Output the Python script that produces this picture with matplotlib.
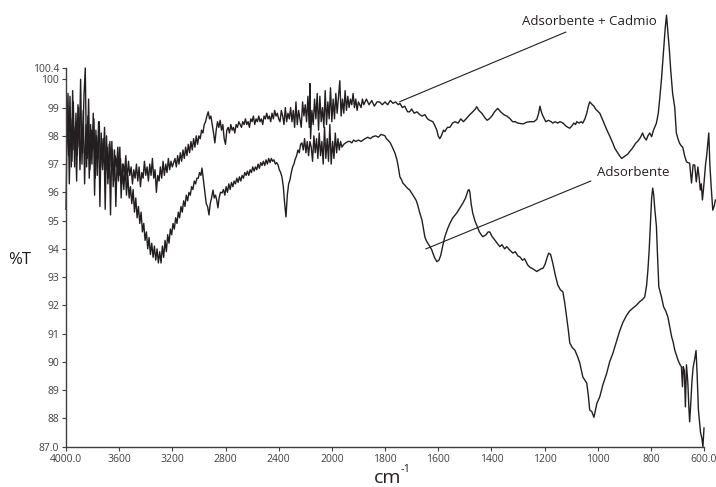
import numpy as np
import matplotlib
matplotlib.use('Agg')
import matplotlib.pyplot as plt

plt.rcParams['font.family'] = ['Open Sans', 'DejaVu Sans']

# spectrum: (wavenumber cm-1, %T)
cadmio_pts = np.array([
    (4000, 95.4), (3990, 98.9), (3980, 97.3), (3970, 99.4), (3960, 96.9), (3950, 99.6),
    (3940, 97.5), (3930, 98.3), (3920, 96.4), (3910, 99.1), (3900, 97.6), (3890, 100.0),
    (3880, 97.0), (3870, 98.9), (3860, 96.3), (3850, 98.4), (3840, 97.2), (3830, 99.3),
    (3820, 96.8), (3810, 98.2), (3800, 97.5), (3790, 98.6), (3780, 96.5), (3770, 98.0),
    (3760, 97.2), (3750, 98.5), (3740, 96.9), (3730, 97.9), (3720, 97.1), (3710, 98.3),
    (3700, 96.8), (3690, 97.6), (3680, 96.5), (3670, 97.8), (3660, 96.9), (3650, 97.5),
    (3640, 96.4), (3630, 97.3), (3620, 96.9), (3610, 97.6), (3600, 96.6), (3590, 97.2),
    (3580, 96.3), (3570, 97.0), (3560, 96.7), (3550, 97.3), (3540, 96.4), (3530, 97.1),
    (3520, 96.6), (3510, 96.9), (3500, 96.3), (3490, 96.8), (3480, 96.5), (3470, 97.0),
    (3460, 96.4), (3450, 96.9), (3440, 96.2), (3430, 96.7), (3420, 96.5), (3410, 97.1),
    (3400, 96.6), (3390, 96.9), (3380, 96.4), (3370, 97.0), (3360, 96.6), (3350, 97.2),
    (3340, 96.5), (3330, 96.8), (3320, 96.0), (3310, 96.6), (3300, 96.4), (3290, 96.9),
    (3280, 96.5), (3270, 97.1), (3260, 96.6), (3250, 97.0), (3240, 96.7), (3230, 97.2),
    (3220, 96.8), (3210, 97.1), (3200, 96.9), (3180, 97.2), (3170, 96.9), (3160, 97.3),
    (3150, 97.0), (3140, 97.4), (3130, 97.1), (3120, 97.5), (3110, 97.2), (3100, 97.6),
    (3090, 97.3), (3080, 97.7), (3070, 97.4), (3060, 97.8), (3050, 97.5), (3040, 97.9),
    (3030, 97.6), (3020, 98.0), (3010, 97.7), (3000, 98.0), (2990, 97.9), (2980, 98.2),
    (2970, 98.1), (2960, 98.4), (2950, 98.5), (2940, 98.7), (2930, 98.85), (2920, 98.6),
    (2910, 98.7), (2900, 98.4), (2890, 98.1), (2880, 97.75), (2870, 98.2), (2860, 98.5),
    (2850, 98.3), (2840, 98.55), (2830, 98.2), (2820, 98.4), (2810, 97.9), (2800, 97.7),
    (2790, 98.2), (2780, 98.3), (2770, 98.1), (2760, 98.4), (2750, 98.2), (2740, 98.3),
    (2730, 98.1), (2720, 98.4), (2710, 98.3), (2700, 98.5), (2680, 98.3), (2670, 98.5),
    (2660, 98.4), (2650, 98.6), (2640, 98.4), (2630, 98.5), (2620, 98.3), (2610, 98.6),
    (2600, 98.5), (2590, 98.7), (2580, 98.4), (2570, 98.6), (2560, 98.5), (2550, 98.7),
    (2540, 98.5), (2530, 98.6), (2520, 98.4), (2510, 98.7), (2500, 98.6), (2490, 98.8),
    (2480, 98.6), (2470, 98.7), (2460, 98.5), (2450, 98.8), (2440, 98.6), (2430, 98.9),
    (2420, 98.7), (2410, 98.8), (2400, 98.6), (2390, 98.5), (2380, 98.9), (2370, 98.7),
    (2360, 98.4), (2350, 99.0), (2340, 98.5), (2330, 98.8), (2320, 98.6), (2310, 99.0),
    (2300, 98.5), (2290, 98.9), (2280, 98.3), (2270, 99.2), (2260, 98.4), (2250, 98.9),
    (2240, 98.6), (2230, 98.3), (2220, 99.2), (2210, 98.7), (2200, 99.1), (2190, 98.5),
    (2180, 99.4), (2170, 98.3), (2165, 99.85), (2160, 97.9), (2150, 98.9), (2140, 98.4),
    (2130, 99.3), (2120, 98.6), (2110, 99.5), (2100, 98.2), (2090, 99.4), (2080, 98.5),
    (2070, 99.0), (2060, 98.3), (2050, 99.6), (2040, 98.4), (2030, 99.2), (2020, 98.6),
    (2010, 99.7), (2000, 98.5), (1995, 99.3), (1990, 98.6), (1985, 99.5), (1980, 98.8),
    (1975, 99.4), (1970, 99.95), (1965, 98.7), (1960, 99.3), (1955, 98.8), (1950, 99.6),
    (1945, 98.9), (1940, 99.4), (1935, 99.0), (1930, 99.3), (1925, 99.1), (1920, 99.5),
    (1915, 99.0), (1910, 99.3), (1905, 98.9), (1900, 99.2), (1890, 99.0), (1885, 99.3),
    (1880, 99.1), (1870, 99.3), (1860, 99.1), (1850, 99.25), (1840, 99.05), (1830, 99.2),
    (1820, 99.2), (1810, 99.1), (1800, 99.2), (1790, 99.1), (1780, 99.25), (1770, 99.15),
    (1760, 99.2), (1750, 99.1), (1744, 99.15), (1735, 99.0), (1726, 99.05), (1715, 98.85),
    (1707, 98.85), (1700, 98.95), (1690, 98.8), (1680, 98.85), (1669, 98.75), (1660, 98.7),
    (1650, 98.75), (1640, 98.6), (1632, 98.55), (1620, 98.5), (1612, 98.35), (1605, 98.2),
    (1600, 98.0), (1594, 97.9), (1588, 98.0), (1580, 98.2), (1575, 98.15), (1565, 98.3),
    (1556, 98.3), (1546, 98.45), (1537, 98.5), (1525, 98.45), (1515, 98.6), (1505, 98.5),
    (1495, 98.6), (1481, 98.75), (1470, 98.85), (1460, 98.95), (1455, 99.03), (1447, 98.9),
    (1436, 98.8), (1425, 98.65), (1416, 98.55), (1408, 98.6), (1398, 98.7), (1388, 98.85),
    (1376, 98.97), (1365, 98.85), (1353, 98.75), (1342, 98.7), (1331, 98.62), (1320, 98.5),
    (1310, 98.5), (1300, 98.45), (1293, 98.44), (1280, 98.42), (1268, 98.48), (1255, 98.5),
    (1240, 98.5), (1229, 98.58), (1222, 98.8), (1217, 99.05), (1212, 98.85), (1206, 98.7),
    (1195, 98.5), (1185, 98.55), (1175, 98.5), (1169, 98.45), (1160, 98.5), (1150, 98.45),
    (1142, 98.5), (1130, 98.45), (1120, 98.35), (1112, 98.3), (1105, 98.27), (1097, 98.35),
    (1090, 98.45), (1083, 98.4), (1079, 98.5), (1070, 98.45), (1062, 98.5), (1056, 98.45),
    (1048, 98.6), (1041, 98.8), (1035, 99.05), (1030, 99.2), (1025, 99.15), (1020, 99.1),
    (1014, 99.05), (1008, 98.95), (1003, 98.9), (992, 98.8), (983, 98.6), (974, 98.4),
    (965, 98.2), (955, 98.0), (943, 97.74), (935, 97.55), (925, 97.4), (918, 97.3),
    (910, 97.2), (902, 97.25), (895, 97.3), (887, 97.35), (880, 97.44), (870, 97.55),
    (857, 97.74), (850, 97.8), (842, 97.9), (836, 98.0), (831, 98.1), (825, 97.95),
    (817, 97.85), (811, 98.0), (804, 98.1), (797, 97.97), (790, 98.2), (779, 98.45),
    (772, 98.8), (767, 99.27), (760, 100.0), (752, 101.0), (746, 101.8), (741, 102.27),
    (736, 101.7), (730, 101.0), (725, 100.3), (718, 99.5), (710, 99.0), (704, 98.1),
    (698, 97.9), (692, 97.74), (686, 97.65), (680, 97.6), (673, 97.3), (666, 97.08),
    (660, 97.05), (654, 97.03), (647, 96.33), (641, 96.97), (635, 96.97), (629, 96.37),
    (623, 96.9), (618, 96.5), (614, 96.08), (610, 96.3), (606, 95.73), (602, 96.1),
    (598, 96.55), (594, 97.0), (590, 97.3), (586, 97.7), (582, 98.1), (578, 97.0),
    (573, 96.2), (567, 95.37), (562, 95.5), (557, 95.73),
])

adsorbente_pts = np.array([
    (3995, 97.8), (3985, 99.5), (3975, 96.3), (3965, 98.6), (3955, 97.1), (3945, 99.2),
    (3935, 96.9), (3925, 98.8), (3915, 97.3), (3905, 99.0), (3895, 96.8), (3885, 98.5),
    (3875, 97.4), (3865, 99.4), (3855, 100.4), (3845, 96.9), (3835, 98.7), (3825, 96.5),
    (3815, 98.4), (3805, 97.0), (3795, 98.8), (3785, 95.9), (3775, 98.2), (3765, 96.6),
    (3755, 98.5), (3745, 95.5), (3735, 98.1), (3725, 96.8), (3715, 97.9), (3705, 95.4),
    (3695, 98.0), (3685, 96.3), (3675, 97.7), (3665, 95.2), (3655, 97.8), (3645, 96.2),
    (3635, 97.5), (3625, 95.5), (3615, 97.2), (3605, 96.4), (3595, 97.6), (3585, 95.8),
    (3575, 97.0), (3565, 96.1), (3555, 96.9), (3545, 95.9), (3535, 96.6), (3525, 95.8),
    (3515, 96.2), (3505, 95.6), (3495, 96.1), (3485, 95.3), (3475, 95.8), (3465, 95.1),
    (3455, 95.5), (3445, 94.9), (3435, 95.3), (3425, 94.6), (3415, 94.9), (3405, 94.3),
    (3395, 94.6), (3385, 94.0), (3375, 94.4), (3365, 93.8), (3355, 94.2), (3345, 93.7),
    (3335, 94.1), (3325, 93.6), (3315, 94.0), (3305, 93.5), (3295, 93.9), (3285, 93.5),
    (3275, 94.1), (3265, 93.7), (3255, 94.3), (3245, 93.9), (3235, 94.5), (3225, 94.2),
    (3215, 94.7), (3205, 94.5), (3195, 94.9), (3185, 94.7), (3175, 95.1), (3165, 94.9),
    (3155, 95.3), (3145, 95.1), (3135, 95.5), (3125, 95.3), (3115, 95.7), (3105, 95.5),
    (3095, 95.9), (3085, 95.7), (3075, 96.0), (3065, 95.9), (3055, 96.2), (3045, 96.1),
    (3035, 96.4), (3025, 96.3), (3015, 96.5), (3005, 96.5), (2995, 96.7), (2985, 96.6),
    (2977, 96.86), (2965, 96.4), (2955, 96.0), (2945, 95.6), (2935, 95.5), (2924, 95.2),
    (2915, 95.6), (2905, 95.8), (2894, 96.08), (2885, 95.8), (2875, 95.9), (2865, 95.7),
    (2857, 95.45), (2848, 95.8), (2838, 96.0), (2826, 95.98), (2815, 96.1), (2805, 95.9),
    (2795, 96.2), (2785, 96.0), (2775, 96.3), (2765, 96.1), (2755, 96.35), (2745, 96.2),
    (2735, 96.4), (2725, 96.3), (2715, 96.5), (2705, 96.35), (2695, 96.55), (2685, 96.4),
    (2675, 96.6), (2665, 96.5), (2655, 96.7), (2645, 96.6), (2635, 96.75), (2625, 96.6),
    (2615, 96.8), (2605, 96.7), (2595, 96.9), (2585, 96.75), (2575, 96.9), (2565, 96.8),
    (2555, 97.0), (2545, 96.85), (2535, 97.05), (2525, 96.95), (2515, 97.1), (2505, 96.95),
    (2495, 97.15), (2485, 97.0), (2475, 97.2), (2465, 97.05), (2455, 97.2), (2445, 97.1),
    (2435, 97.15), (2425, 97.0), (2415, 97.05), (2405, 96.97), (2395, 96.8), (2385, 96.7),
    (2375, 96.54), (2365, 96.2), (2355, 95.6), (2345, 95.13), (2335, 95.9), (2325, 96.3),
    (2315, 96.44), (2305, 96.7), (2295, 96.9), (2285, 97.0), (2277, 97.15), (2265, 97.3),
    (2255, 97.5), (2245, 97.4), (2235, 97.7), (2225, 97.75), (2215, 97.5), (2205, 97.9),
    (2195, 97.4), (2185, 97.8), (2175, 97.3), (2165, 97.8), (2155, 97.6), (2145, 97.1),
    (2135, 98.0), (2125, 97.4), (2115, 97.9), (2105, 97.2), (2095, 98.1), (2085, 97.3),
    (2075, 97.8), (2065, 97.0), (2055, 98.3), (2045, 97.2), (2035, 97.9), (2025, 97.1),
    (2015, 98.4), (2005, 97.0), (1997, 97.8), (1992, 97.2), (1987, 98.1), (1982, 97.4),
    (1977, 97.9), (1972, 97.5), (1967, 97.8), (1962, 97.6), (1955, 97.7), (1948, 97.75),
    (1940, 97.8), (1932, 97.8), (1925, 97.75), (1918, 97.85), (1910, 97.8), (1900, 97.85),
    (1890, 97.8), (1883, 97.85), (1875, 97.9), (1865, 97.95), (1855, 97.9), (1846, 97.97),
    (1835, 98.0), (1825, 97.95), (1815, 98.05), (1808, 98.03), (1800, 98.0), (1795, 97.9),
    (1789, 97.85), (1780, 97.75), (1771, 97.57), (1763, 97.4), (1755, 97.15), (1750, 96.9),
    (1744, 96.55), (1738, 96.45), (1733, 96.33), (1725, 96.25), (1716, 96.15), (1707, 96.08),
    (1698, 95.95), (1688, 95.8), (1682, 95.7), (1677, 95.55), (1670, 95.3), (1661, 95.02),
    (1655, 94.7), (1650, 94.42), (1645, 94.3), (1639, 94.2), (1632, 94.1), (1624, 93.96),
    (1618, 93.8), (1613, 93.68), (1605, 93.55), (1597, 93.6), (1590, 93.78), (1583, 94.1),
    (1575, 94.43), (1565, 94.7), (1556, 94.9), (1545, 95.1), (1530, 95.27), (1518, 95.45),
    (1507, 95.62), (1497, 95.8), (1488, 96.06), (1484, 96.1), (1481, 96.02), (1476, 95.6),
    (1470, 95.27), (1462, 95.0), (1455, 94.84), (1445, 94.6), (1438, 94.5), (1432, 94.43),
    (1420, 94.5), (1412, 94.6), (1406, 94.6), (1398, 94.45), (1387, 94.31), (1378, 94.2),
    (1368, 94.08), (1360, 94.15), (1350, 94.0), (1342, 94.08), (1330, 93.95), (1319, 93.85),
    (1310, 93.9), (1300, 93.75), (1293, 93.72), (1283, 93.6), (1275, 93.65), (1263, 93.43),
    (1255, 93.35), (1245, 93.3), (1237, 93.25), (1229, 93.2), (1220, 93.25), (1212, 93.3),
    (1206, 93.31), (1198, 93.45), (1190, 93.7), (1184, 93.85), (1177, 93.8), (1169, 93.5),
    (1160, 93.1), (1150, 92.72), (1140, 92.55), (1131, 92.48), (1124, 92.1), (1117, 91.6),
    (1110, 91.1), (1105, 90.67), (1095, 90.5), (1086, 90.42), (1076, 90.2), (1067, 89.95),
    (1060, 89.65), (1056, 89.47), (1048, 89.35), (1041, 89.25), (1035, 88.8), (1030, 88.3),
    (1022, 88.24), (1014, 88.04), (1008, 88.3), (1003, 88.53), (992, 88.77), (980, 89.2),
    (966, 89.6), (955, 90.0), (943, 90.3), (930, 90.7), (917, 91.1), (905, 91.4),
    (891, 91.65), (880, 91.8), (868, 91.9), (855, 92.0), (842, 92.13), (832, 92.2),
    (823, 92.3), (816, 92.7), (811, 93.25), (806, 94.0), (801, 95.0), (797, 95.8),
    (793, 96.15), (789, 95.9), (785, 95.4), (779, 94.8), (775, 93.8), (770, 92.66),
    (760, 92.3), (752, 91.95), (744, 91.8), (736, 91.6), (728, 91.2), (722, 90.9),
    (716, 90.7), (710, 90.42), (704, 90.25), (698, 90.07), (690, 89.9), (685, 89.83),
    (681, 89.12), (678, 89.83), (674, 89.7), (670, 88.41), (666, 89.9), (661, 89.3),
    (657, 88.4), (654, 87.88), (650, 88.5), (645, 89.36), (641, 89.8), (635, 90.1),
    (630, 90.4), (626, 89.6), (621, 88.3), (617, 87.9), (613, 87.5), (608, 87.3),
    (604, 87.0), (600, 87.66),
])

x_ticks = [4000, 3600, 3200, 2800, 2400, 2000, 1800, 1600, 1400, 1200, 1000, 800, 600]
x_labels = ['4000.0', '3600', '3200', '2800', '2400', '2000', '1800', '1600',
            '1400', '1200', '1000', '800', '600.0']
y_ticks = [87, 88, 89, 90, 91, 92, 93, 94, 95, 96, 97, 98, 99, 100, 100.4]
y_labels = ['87.0', '88', '89', '90', '91', '92', '93', '94', '95', '96', '97',
            '98', '99', '100', '100.4']


# FTIR style axis: 400 cm-1 per division above 2000, 200 below
def fwd(w):
    w = np.asarray(w, dtype=float)
    return np.where(w >= 2000, 7 + (w - 2000) / 400, (w - 600) / 200)


def inv(t):
    t = np.asarray(t, dtype=float)
    return np.where(t >= 7, 2000 + 400 * (t - 7), 600 + 200 * t)


fig = plt.figure(figsize=(7.16, 4.87), dpi=100)
ax = fig.add_axes([66 / 716, 1 - 446.7 / 487, 638 / 716, 378.7 / 487])
ax.set_xscale('function', functions=(fwd, inv))
ax.set_xlim(4000, 600)
ax.set_ylim(87, 100.4)

line_col = '#231f20'
ax.plot(cadmio_pts[:, 0], cadmio_pts[:, 1], color=line_col, lw=1.0, clip_on=False)
ax.plot(adsorbente_pts[:, 0], adsorbente_pts[:, 1], color=line_col, lw=1.0, clip_on=False)

# callout lines and labels
ax.plot([1744, 1120], [99.21, 101.67], color=line_col, lw=0.8, clip_on=False)
ax.plot([1646, 1026], [94.0, 96.4], color=line_col, lw=0.8, clip_on=False)
ax.text(1286, 102.06, 'Adsorbente + Cadmio', fontsize=9.5, ha='left', va='center', color=line_col)
ax.text(1004, 96.7, 'Adsorbente', fontsize=9.5, ha='left', va='center', color=line_col)

ax.set_xticks(x_ticks)
ax.set_xticklabels(x_labels)
ax.set_yticks(y_ticks)
ax.set_yticklabels(y_labels)
ax.minorticks_off()

for s in ['top', 'right']:
    ax.spines[s].set_visible(False)
for s in ['left', 'bottom']:
    ax.spines[s].set_color('#404040')
    ax.spines[s].set_linewidth(1.0)
ax.tick_params(axis='both', direction='out', length=3, width=0.8, colors='#404040',
               labelsize=7.5, pad=2)

fig.text(20 / 716, 1 - 260 / 487, '%T', fontsize=12, ha='center', va='center', color=line_col)
fig.text(388 / 716, 1 - 478 / 487, 'cm', fontsize=14, ha='center', va='center', color=line_col)
fig.text(401 / 716, 1 - 470 / 487, '-1', fontsize=8, ha='left', va='center', color=line_col)

fig.savefig('out.png', dpi=100)
